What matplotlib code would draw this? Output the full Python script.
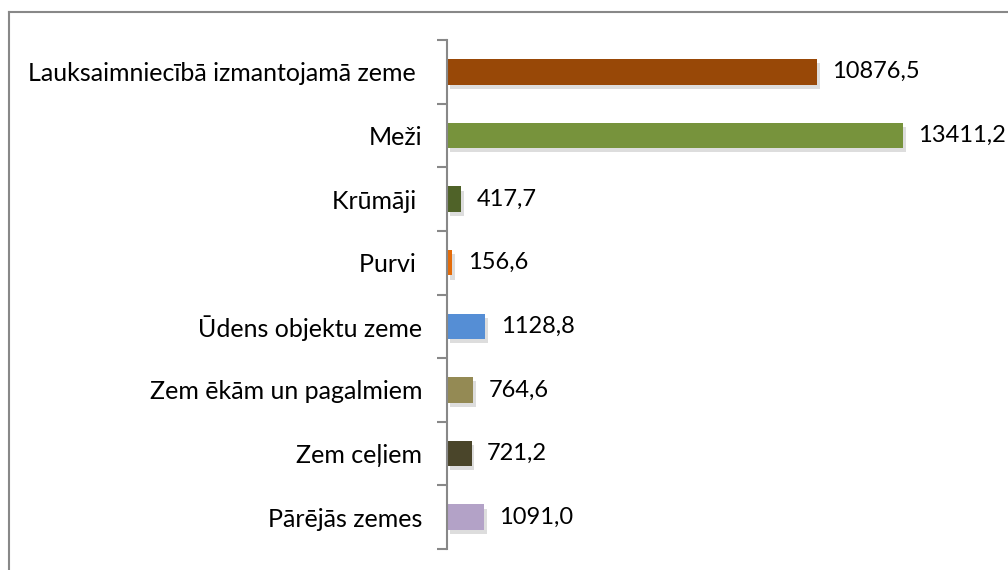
import matplotlib.pyplot as plt
import matplotlib.patheffects as pe
from matplotlib.lines import Line2D

# Zemes lietošanas veidi
kategorijas = ["Lauksaimniecībā izmantojamā zeme ", "Meži", "Krūmāji ", "Purvi ",
               "Ūdens objektu zeme", "Zem ēkām un pagalmiem", "Zem ceļiem", "Pārējās zemes"]
vertibas = [10876.5, 13411.2, 417.7, 156.6, 1128.8, 764.6, 721.2, 1091.0]
krasas = ["#984807", "#77933C", "#4F6228", "#E46C0A", "#558ED5", "#948A54", "#4A452A", "#B3A2C7"]

plt.rcParams['font.family'] = ['Lato', 'DejaVu Sans']

fig = plt.figure(figsize=(10.08, 5.70), dpi=100)
ax = fig.add_axes([447 / 1008, 1 - 549 / 570, 544 / 1008, 509 / 570])

poz = list(range(len(kategorijas)))
stabini = ax.barh(poz, vertibas, height=0.4, color=krasas)
for s in stabini:
    s.set_path_effects([pe.SimplePatchShadow(offset=(2, -3), alpha=0.18, shadow_rgbFace="#444444"),
                        pe.Normal()])

for p, v in zip(poz, vertibas):
    ax.annotate(f"{v:.1f}".replace(".", ","), (v, p), xytext=(11, 0), textcoords="offset points",
                va="center", ha="left", fontsize=17, color="black")

ax.set_xlim(0, 16000)
ax.set_ylim(len(kategorijas) - 0.5, -0.5)
ax.set_yticks([p - 0.5 for p in poz] + [len(kategorijas) - 0.5])
ax.set_yticklabels([])
ax.set_yticks(poz, minor=True)
ax.set_yticklabels(kategorijas, minor=True, fontsize=18)
ax.tick_params(axis="y", which="major", length=7, width=1.5, color="#888888")
ax.tick_params(axis="y", which="minor", length=0, pad=18)
ax.set_xticks([])
for k in ["top", "right", "bottom"]:
    ax.spines[k].set_visible(False)
ax.spines["left"].set_color("#888888")
ax.spines["left"].set_linewidth(1.5)

# rāmis ap attēlu
fig.add_artist(Line2D([8.5 / 1008, 8.5 / 1008], [0, 1 - 11.5 / 570], transform=fig.transFigure,
                      color="#888888", lw=1.5))
fig.add_artist(Line2D([8.5 / 1008, 1], [1 - 11.5 / 570, 1 - 11.5 / 570], transform=fig.transFigure,
                      color="#888888", lw=1.5))

fig.savefig("out.png", dpi=100)
